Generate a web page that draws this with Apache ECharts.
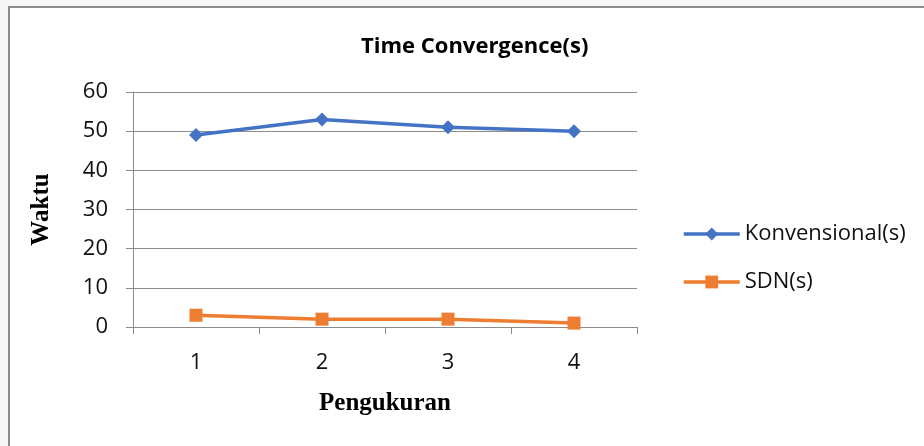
<!DOCTYPE html>
<html><head><meta charset="utf-8">
<script src="https://cdn.jsdelivr.net/npm/echarts@6/dist/echarts.min.js"></script>
<style>html,body{margin:0;padding:0;background:#f7f7f7;}#c{width:924px;height:446px;}</style>
</head><body><div id="c"></div>
<script>
const categories = ['1', '2', '3', '4'];
const konvensional = [49, 53, 51, 50];
const sdn = [3, 2, 2, 1];
const seriesNames = ['Konvensional(s)', 'SDN(s)'];

const chart = echarts.init(document.getElementById('c'), null, {renderer: 'canvas'});
const font = 'Open Sans, Noto Sans, sans-serif';
const serif = 'Liberation Serif, Times New Roman, serif';
chart.setOption({
  backgroundColor: '#f7f7f7',
  animation: false,
  graphic: [{
    type: 'rect', z: -10, left: 8, top: 6,
    shape: {width: 930, height: 450},
    style: {fill: '#ffffff', stroke: '#8c8c8c', lineWidth: 2}
  }],
  title: {
    text: 'Time Convergence(s)', left: 356, top: 31,
    textStyle: {fontFamily: font, fontWeight: 'bold', fontSize: 22, color: '#000'}
  },
  legend: {
    orient: 'vertical', left: 677, top: 216, itemGap: 22,
    itemWidth: 56, itemHeight: 16,
    lineStyle: {width: 3.5},
    textStyle: {fontFamily: font, fontSize: 22, color: '#111', lineHeight: 26},
    data: seriesNames
  },
  grid: {left: 133, right: 287, top: 92, bottom: 119},
  xAxis: {
    type: 'category', data: categories, boundaryGap: true,
    name: 'Pengukuran', nameLocation: 'middle', nameGap: 64,
    nameTextStyle: {fontFamily: serif, fontWeight: 'bold', fontSize: 25, color: '#000'},
    axisLine: {lineStyle: {color: '#8c8c8c', width: 1}},
    axisTick: {show: true, length: 7, lineStyle: {color: '#8c8c8c'}},
    axisLabel: {fontFamily: font, fontSize: 22, color: '#111', margin: 25}
  },
  yAxis: {
    type: 'value', min: 0, max: 60, interval: 10,
    name: 'Waktu', nameLocation: 'middle', nameGap: 79, nameRotate: 90,
    nameTextStyle: {fontFamily: serif, fontWeight: 'bold', fontSize: 25, color: '#000'},
    axisLine: {show: true, lineStyle: {color: '#8c8c8c', width: 1}},
    axisTick: {show: true, length: 7, lineStyle: {color: '#8c8c8c'}},
    splitLine: {lineStyle: {color: '#8c8c8c', width: 1}},
    axisLabel: {fontFamily: font, fontSize: 22, color: '#111', margin: 25}
  },
  series: [
    {
      name: seriesNames[0], type: 'line', data: konvensional,
      symbol: 'diamond', symbolSize: 14,
      lineStyle: {color: '#4472c4', width: 3.5},
      itemStyle: {color: '#4472c4'}
    },
    {
      name: seriesNames[1], type: 'line', data: sdn,
      symbol: 'rect', symbolSize: 13,
      lineStyle: {color: '#ed7d31', width: 3.5},
      itemStyle: {color: '#ed7d31'}
    }
  ]
});
</script></body></html>
